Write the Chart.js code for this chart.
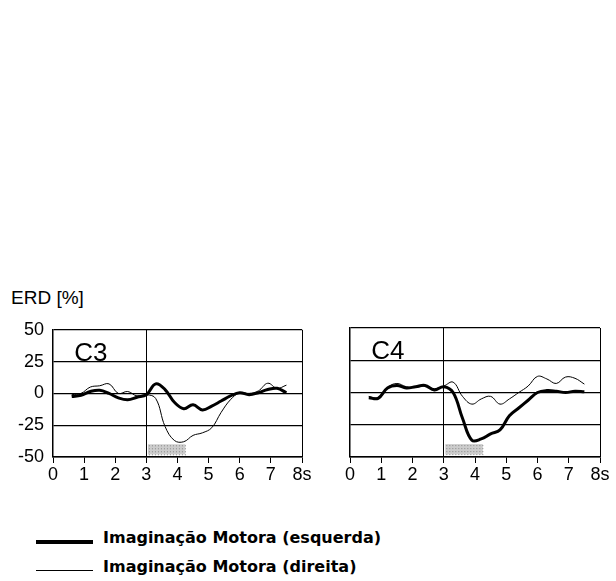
<!DOCTYPE html>
<html>
<head>
<meta charset="utf-8">
<script src="https://cdn.jsdelivr.net/npm/chart.js@4"></script>
<style>
  body { margin: 0; background: #fff; width: 616px; height: 581px; position: relative; overflow: hidden; }
  .panel { position: absolute; top: 310px; height: 180px; }
  #ylabel { position: absolute; left: 11px; top: 287px; font: 19px "Liberation Sans", Arial, sans-serif; color: #000; }
  .leg { position: absolute; left: 36px; font: bold 16px "DejaVu Sans", sans-serif; color: #000; }
  .leg span.ln { position: absolute; left: 0; width: 57px; background: #000; }
  .leg span.tx { position: absolute; left: 67px; white-space: nowrap; }
</style>
</head>
<body>
<div id="ylabel">ERD [%]</div>
<div class="panel" style="left:0;width:320px"><canvas id="c3" width="320" height="180"></canvas></div>
<div class="panel" style="left:320px;width:296px"><canvas id="c4" width="296" height="180"></canvas></div>
<div class="leg" style="top:528px"><span class="ln" style="top:12px;height:4px"></span><span class="tx">Imaginação Motora (esquerda)</span></div>
<div class="leg" style="top:557px"><span class="ln" style="top:13px;height:1px"></span><span class="tx">Imaginação Motora (direita)</span></div>
<script>
// tempo (s)
const times = [0.6, 0.9, 1.2, 1.5, 1.8, 2.1, 2.4, 2.7, 3.0, 3.3, 3.6, 3.9, 4.2, 4.5, 4.8, 5.1, 5.4, 5.7, 6.0, 6.3, 6.6, 6.9, 7.2, 7.5];

const c3Esquerda = [-2.5, -1.5, 1.5, 2.5, 0, -3.5, -5, -3, -1, 7.5, 3, -7, -12, -9, -13, -10, -6, -2, 0.5, -1, 0.5, 3, 4, 0.5];
const c3Direita = [-1, 0, 5, 6, 7.5, 0, 1.5, -2, -1, -4, -26, -37, -38, -33, -31, -27, -15, -5, 0.5, 0, 2, 8, 4, 6.5];
const c4Esquerda = [-4, -4.5, 3.5, 5.5, 3.5, 4.5, 5.5, 2, 4.5, 0, -20, -37, -36, -32, -29, -18, -12, -6, 0, 1.5, 1, 0, 1, 0.5];
const c4Direita = [-3, -4, 4, 7, 4.5, 4, 5, 3, 5, 8, -3, -9, -5, -3, -9, -5, 0, 5, 12.5, 10.5, 7, 12, 11, 6.5];

const stimulus = [3.05, 4.25];
const cueTime = 3;

function pts(vals) {
  return vals.map((v, i) => ({ x: times[i], y: v }));
}

const panelText = {
  id: 'panelText',
  beforeDatasetsDraw(chart, args, opts) {
    const { ctx, scales } = chart;
    const x = scales.x, y = scales.y;
    // barra do estimulo
    const l = x.getPixelForValue(stimulus[0]), r = x.getPixelForValue(stimulus[1]);
    const t = y.getPixelForValue(-40), b = y.getPixelForValue(-48);
    ctx.save();
    ctx.fillStyle = '#ccc';
    ctx.fillRect(l, t, r - l, b - t);
    ctx.fillStyle = '#888';
    for (let i = l + 1; i < r; i += 3) {
      for (let j = t + 1; j < b; j += 3) ctx.fillRect(i, j, 1, 1);
    }
    ctx.font = '26px "Liberation Sans", Arial, sans-serif';
    ctx.fillStyle = '#000';
    ctx.textBaseline = 'alphabetic';
    ctx.fillText(opts.label, x.getPixelForValue(0.68), y.getPixelForValue(25) - 1);
    ctx.restore();
  }
};

function makePanel(id, label, esq, dir, showY, yWidth, padRight) {
  new Chart(document.getElementById(id), {
    type: 'line',
    data: {
      datasets: [
        { label: 'Imaginação Motora (esquerda)', data: pts(esq), borderColor: '#000', borderWidth: 3, tension: 0.4, pointRadius: 0 },
        { label: 'Imaginação Motora (direita)', data: pts(dir), borderColor: '#000', borderWidth: 1, tension: 0.4, pointRadius: 0 }
      ]
    },
    options: {
      responsive: false,
      animation: false,
      layout: { padding: { top: 18, right: padRight, left: 0, bottom: 0 } },
      plugins: { legend: { display: false }, tooltip: { enabled: false }, panelText: { label: label } },
      scales: {
        x: {
          type: 'linear', min: 0, max: 8,
          afterFit: s => { s.height = 33; },
          ticks: {
            stepSize: 1, color: '#000', padding: 1,
            font: { family: '"Liberation Sans", Arial, sans-serif', size: 18 },
            callback: v => v === 8 ? '8s' : v
          },
          grid: {
            color: c => (c.tick && (c.tick.value === cueTime || c.tick.value === 8)) ? '#000' : 'rgba(0,0,0,0)',
            tickColor: '#000', tickLength: 6, lineWidth: 1
          },
          border: { color: '#000', width: 1.5 }
        },
        y: {
          min: -50, max: 50,
          afterFit: s => { s.width = yWidth; },
          ticks: {
            stepSize: 25, display: showY, color: '#000', padding: 9,
            font: { family: '"Liberation Sans", Arial, sans-serif', size: 18 }
          },
          grid: { color: '#000', lineWidth: 1.3, drawTicks: false },
          border: { color: '#000', width: 1.5 }
        }
      }
    },
    plugins: [panelText]
  });
}

makePanel('c3', 'C3', c3Esquerda, c3Direita, true, 53, 18);
makePanel('c4', 'C4', c4Esquerda, c4Direita, false, 30, 16);
</script>
</body>
</html>
